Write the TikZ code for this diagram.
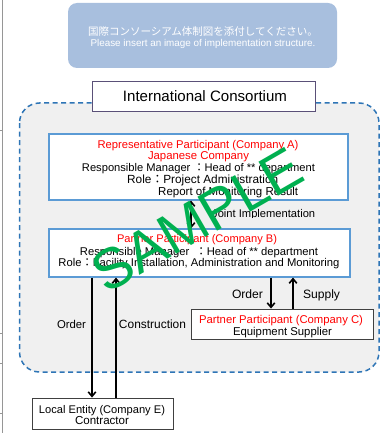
\documentclass[tikz,border=0pt]{standalone}
\usepackage{fontspec}
\usepackage{graphicx}
\setmainfont{Liberation Sans}
\newfontfamily\cjk{Noto Sans CJK JP}
\usetikzlibrary{arrows.meta}
\definecolor{topblue}{RGB}{168,191,222}
\definecolor{dashblue}{RGB}{46,117,182}
\definecolor{boxblue}{RGB}{91,155,213}
\definecolor{consfill}{RGB}{240,240,240}
\definecolor{redtxt}{RGB}{255,0,0}
\definecolor{samplegreen}{RGB}{0,176,80}
\definecolor{edgegray}{RGB}{150,150,150}
\definecolor{titleborder}{RGB}{90,80,120}
\definecolor{darkborder}{RGB}{64,64,64}
\newcommand{\fw}[2]{\resizebox{#1pt}{!}{#2}}
\newcommand{\jcolon}{{\cjk ：}}
\tikzset{
  txt/.style={inner sep=0pt, anchor=base},
  ltxt/.style={inner sep=0pt, anchor=base west},
  redt/.style={txt, text=redtxt},
  bluebox/.style={draw=boxblue, line width=1.1pt, fill=white, inner sep=0pt},
  greybox/.style={draw=darkborder, line width=0.9pt, fill=white, inner sep=0pt},
  flow/.style={line width=1.6pt, draw=black},
  tipd/.style={-{Straight Barb[length=4.5pt,width=7.5pt]}},
  tipu/.style={{Straight Barb[length=4.5pt,width=7.5pt]}-},
  tipb/.style={{Straight Barb[length=4.5pt,width=7.5pt]}-{Straight Barb[length=4.5pt,width=7.5pt]}},
}
\begin{document}
\begin{tikzpicture}[x=1pt,y=-1pt]
\useasboundingbox (0,0) rectangle (382,433);
% left page edge
\draw[edgegray, line width=0.8pt] (2.5,0) -- (2.5,433);
\foreach \yy in {130,333,363,413} \draw[edgegray, line width=0.8pt] (0,\yy) -- (2.5,\yy);

% top placeholder box
\node[fill=topblue, rounded corners=9pt, minimum width=269pt, minimum height=65pt, inner sep=0pt] (top) at (202.5,35.5) {};
\node[txt, text=white] (topjp) at (203,36) {\fw{230}{\cjk 国際コンソーシアム体制図を添付してください。}};
\node[txt, text=white] (topen) at (203,46.5) {\fw{225}{Please insert an image of implementation structure.}};

% consortium area
\draw[dashblue, fill=consfill, line width=1.5pt, dash pattern=on 5pt off 3.5pt, rounded corners=20pt] (19.5,103) rectangle (379,372);
\node[draw=titleborder, line width=0.9pt, fill=white, minimum width=223pt, minimum height=30pt, inner sep=0pt] (title) at (203.5,96) {};
\node[txt] (titletxt) at (205,102) {\fw{164}{International Consortium}};

% box A
\node[bluebox, minimum width=299pt, minimum height=66pt] (A) at (198.5,167) {};
\node[redt] (a1) at (198,148) {\fw{201}{Representative Participant (Company A)}};
\node[redt] (a2) at (198.5,159) {\fw{101}{Japanese Company}};
\node[txt] (a3) at (198.5,171) {\fw{233}{Responsible Manager \jcolon Head of ** department}};
\node[ltxt] (a4) at (127,183) {\fw{151}{Role\jcolon Project Administration}};
\node[ltxt] (a5) at (158,195) {\fw{140}{Report of Monitoring Result}};

% box B
\node[bluebox, minimum width=301pt, minimum height=48pt] (B) at (199.5,253) {};
\node[redt] (b1) at (197,242) {\fw{160}{Partner Participant (Company B)}};
\node[txt] (b2) at (199,255) {\fw{238}{Responsible Manager \ \jcolon Head of ** department}};
\node[txt] (b3) at (199,266) {\fw{281}{Role\jcolon Facility Installation, Administration and Monitoring}};

% box C
\node[greybox, minimum width=182pt, minimum height=30pt] (C) at (282,324) {};
\node[redt] (c1t) at (281,323) {\fw{164}{Partner Participant (Company C)}};
\node[txt] (c2t) at (282.5,335) {\fw{99}{Equipment Supplier}};

% box E
\node[greybox, minimum width=141pt, minimum height=31pt] (E) at (102.5,413.5) {};
\node[txt] (e1t) at (102,413) {\fw{126}{Local Entity (Company E)}};
\node[txt] (e2t) at (102,424) {\fw{54}{Contractor}};

% x positions of connectors
\coordinate (x1) at (92,0);
\coordinate (x2) at (116,0);
\coordinate (x3) at (271,0);
\coordinate (x4) at (293,0);
\coordinate (x5) at (191,0);

% connectors
\draw[flow, tipb] (A.south -| x5) -- (B.north -| x5);
\draw[flow, tipd] (B.south -| x1) -- (E.north -| x1);
\draw[flow, tipu] (B.south -| x2) -- (E.north -| x2);
\draw[flow, tipd] (B.south -| x3) -- (C.north -| x3);
\draw[flow, tipu] (B.south -| x4) -- (C.north -| x4);

% connector labels
\begin{scope}
\clip (150,200) rectangle (345,217.8);
\node[ltxt] (ji) at (212,217) {\fw{103}{Joint Implementation}};
\end{scope}
\node[txt] (lo) at (71.5,328) {\fw{29}{Order}};
\node[txt] (lc) at (152.5,328) {\fw{67}{Construction}};
\node[txt] (ro) at (247.5,298) {\fw{31}{Order}};
\node[txt] (rs) at (321.5,298) {\fw{37}{Supply}};

% watermark
\node[inner sep=0pt, rotate=30, text=samplegreen, font=\fontsize{57}{62}\selectfont] (sample) at (197,220) {SAMPLE};
\end{tikzpicture}
\end{document}
